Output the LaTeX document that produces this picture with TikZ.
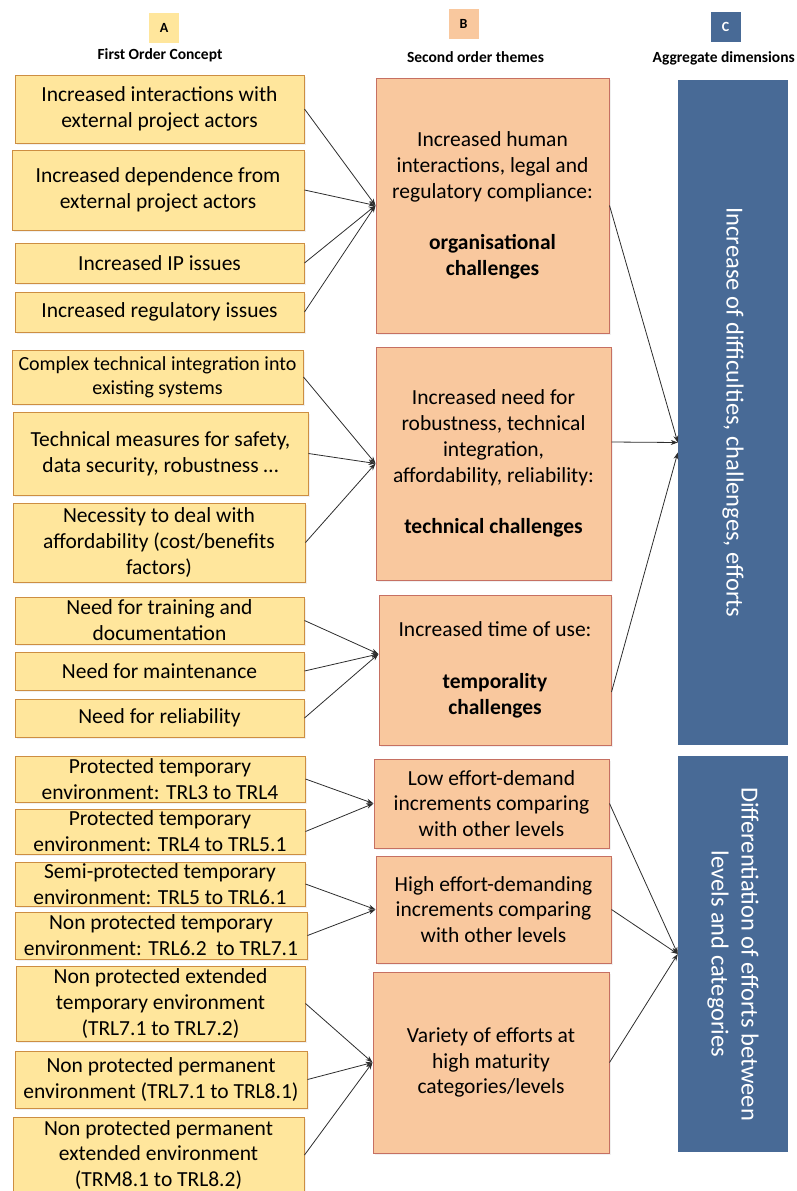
\documentclass[tikz,border=0pt]{standalone}
\usepackage{fontspec}
\setmainfont{Carlito}
\usepackage{xcolor}
\usetikzlibrary{arrows.meta,shadows}
\definecolor{conceptfill}{RGB}{255, 230, 156}
\definecolor{conceptline}{RGB}{205, 142, 66}
\definecolor{themefill}{RGB}{249, 200, 158}
\definecolor{themeline}{RGB}{198, 112, 98}
\definecolor{dimblue}{RGB}{72, 106, 150}
\definecolor{linkgray}{RGB}{45, 45, 45}

\begin{document}
\begin{tikzpicture}[x=1pt,y=-1pt,
    concept/.style={draw=conceptline,fill=conceptfill,line width=1pt,inner sep=1pt,align=center,
        font=\fontsize{21.5}{25.8}\selectfont,drop shadow={opacity=.12,shadow xshift=1.5pt,shadow yshift=-1.5pt}},
    theme/.style={draw=themeline,fill=themefill,line width=1pt,inner sep=1pt,align=center,
        font=\fontsize{21.5}{25.8}\selectfont,drop shadow={opacity=.12,shadow xshift=1.5pt,shadow yshift=-1.5pt}},
    dimension/.style={fill=dimblue,text=white,rotate=-90,inner sep=1pt,align=center,
        font=\fontsize{24.5}{30}\selectfont},
    letterbox/.style={minimum width=30,minimum height=30,inner sep=0pt,font=\fontsize{14}{16}\selectfont\bfseries},
    heading/.style={font=\fontsize{15.5}{18}\selectfont\bfseries},
    link/.style={draw=linkgray,line width=.8pt,-{Stealth[length=7pt,width=5pt]}}]
    \useasboundingbox (0,0) rectangle (796,1191);

    % Headings
    \node[letterbox,fill=conceptfill] (hA) at (164,28) {A};
    \node[letterbox,fill=themefill] (hB) at (463.5,23.5) {B};
    \node[letterbox,fill=dimblue,text=white] (hC) at (725.5,27) {C};
    \node[heading] (tA) at (160,55) {First Order Concept};
    \node[heading] (tB) at (475.5,57) {Second order themes};
    \node[heading,anchor=east,inner sep=1pt] (tC) at (796,58) {Aggregate dimensions};

    % First order concepts
    \node[concept,minimum width=289,minimum height=68] (a1) at (159.5,109) {Increased interactions with\\external project actors};
    \node[concept,minimum width=292,minimum height=80] (a2) at (158,190) {Increased dependence from\\external project actors};
    \node[concept,minimum width=289,minimum height=40] (a3) at (159.5,263) {Increased IP issues};
    \node[concept,minimum width=289,minimum height=40] (a4) at (159.5,312) {Increased regulatory issues};
    \node[concept,minimum width=291,minimum height=54,font=\fontsize{20}{24}\selectfont] (a5) at (157.5,377) {Complex technical integration into\\existing systems};
    \node[concept,minimum width=295,minimum height=83] (a6) at (160.5,453.5) {Technical measures for safety,\\data security, robustness \dots};
    \node[concept,minimum width=292,minimum height=79] (a7) at (159,542.5) {Necessity to deal with\\affordability (cost/benefits\\factors)};
    \node[concept,minimum width=289,minimum height=47] (a8) at (159.5,620.5) {Need for training and\\documentation};
    \node[concept,minimum width=289,minimum height=38] (a9) at (159.5,671) {Need for maintenance};
    \node[concept,minimum width=289,minimum height=38] (a10) at (159.5,718) {Need for reliability};
    \node[concept,minimum width=290,minimum height=46] (a11) at (160,779) {Protected temporary\\environment: TRL3 to TRL4};
    \node[concept,minimum width=290,minimum height=45] (a12) at (160,831.5) {Protected temporary\\environment: TRL4 to TRL5.1};
    \node[concept,minimum width=290,minimum height=44] (a13) at (160,884) {Semi-protected temporary\\environment: TRL5 to TRL6.1};
    \node[concept,minimum width=292,minimum height=47] (a14) at (161,935.5) {Non protected temporary\\environment: TRL6.2\ \ to TRL7.1};
    \node[concept,minimum width=289,minimum height=75] (a15) at (160.5,1003.5) {Non protected extended\\temporary environment\\(TRL7.1 to TRL7.2)};
    \node[concept,minimum width=292,minimum height=57] (a16) at (161,1079.5) {Non protected permanent\\environment (TRL7.1 to TRL8.1)};
    \node[concept,minimum width=291,minimum height=76] (a17) at (158.5,1155) {Non protected permanent\\extended environment\\(TRM8.1 to TRL8.2)};

    % Second order themes
    \node[theme,minimum width=233,minimum height=255] (b1) at (492.5,205.5) {Increased human\\interactions, legal and\\regulatory compliance:\\[25.8pt]\textbf{organisational}\\\textbf{challenges}};
    \node[theme,minimum width=235,minimum height=233] (b2) at (493.5,463.5) {Increased need for\\robustness, technical\\integration,\\affordability, reliability:\\[25.8pt]\textbf{technical challenges}};
    \node[theme,minimum width=232,minimum height=150] (b3) at (495,670) {Increased time of use:\\[25.8pt]\textbf{temporality}\\\textbf{challenges}};
    \node[theme,minimum width=235,minimum height=89] (b4) at (491.5,803.5) {Low effort-demand\\increments comparing\\with other levels};
    \node[theme,minimum width=235,minimum height=107] (b5) at (493.5,909.5) {High effort-demanding\\increments comparing\\with other levels};
    \node[theme,minimum width=236,minimum height=181] (b6) at (491,1062.5) {Variety of efforts at\\high maturity\\categories/levels};

    % Aggregate dimensions
    \node[dimension,minimum width=665,minimum height=110] (c1) at (733,412.5) {Increase of difficulties, challenges, efforts};
    \node[dimension,minimum width=396,minimum height=110] (c2) at (733,954) {Differentiation of efforts between\\levels and categories};

    % Links A -> B
    \draw[link] (a1.east) -- (b1.west);
    \draw[link] (a2.east) -- (b1.west);
    \draw[link] (a3.east) -- (b1.west);
    \draw[link] (a4.east) -- (b1.west);
    \draw[link] (a5.east) -- (b2.west);
    \draw[link] (a6.east) -- (b2.west);
    \draw[link] (a7.east) -- (b2.west);
    \draw[link] (a8.east) -- ([yshift=16pt]b3.west);
    \draw[link] (a9.east) -- ([yshift=16pt]b3.west);
    \draw[link] (a10.east) -- ([yshift=16pt]b3.west);
    \draw[link] (a11.east) -- (b4.west);
    \draw[link] (a12.east) -- (b4.west);
    \draw[link] (a13.east) -- (b5.west);
    \draw[link] (a14.east) -- (b5.west);
    \draw[link] (a15.east) -- (b6.west);
    \draw[link] (a16.east) -- (b6.west);
    \draw[link] (a17.east) -- (b6.west);

    % Links B -> C
    \draw[link] (b1.east) -- ([yshift=-30pt]c1.south);
    \draw[link] ([yshift=21.5pt]b2.east) -- ([yshift=-30pt]c1.south);
    \draw[link] ([yshift=-22pt]b3.east) -- ([yshift=-40pt]c1.south);
    \draw[link] (b4.east) -- (c2.south);
    \draw[link] (b5.east) -- (c2.south);
    \draw[link] (b6.east) -- (c2.south);
\end{tikzpicture}
\end{document}
